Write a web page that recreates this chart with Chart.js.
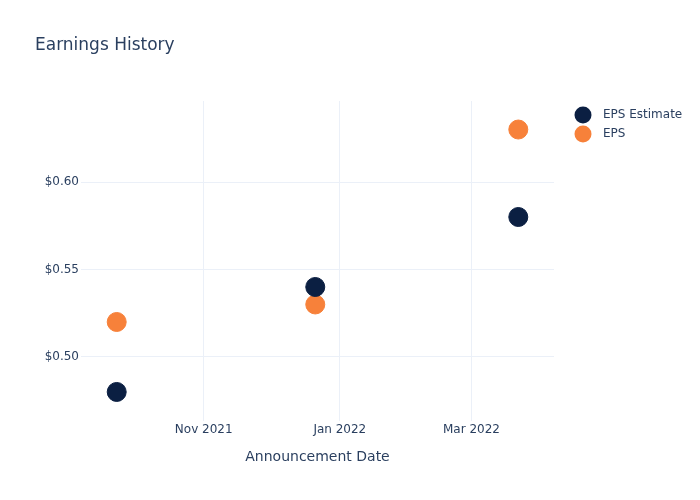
<!DOCTYPE html>
<html>
<head>
<meta charset="utf-8">
<script src="https://cdn.jsdelivr.net/npm/chart.js"></script>
<style>
  body { margin: 0; background: #fff; }
  canvas { display: block; }
</style>
</head>
<body>
<canvas id="eps-chart" width="700" height="500"></canvas>
<script>
// data
const announceDates = ["2021-09-23", "2021-12-21", "2022-03-22"];
const epsEstimate = [0.48, 0.54, 0.58];
const epsActual = [0.52, 0.53, 0.63];
const xTickDates = ["2021-11-01", "2022-01-01", "2022-03-01"];
const xTickLabels = ["Nov 2021", "Jan 2022", "Mar 2022"];

const textColor = "#2a3f5f";
const gridColor = "#ebf0f8";
const fontFamily = "'DejaVu Sans', Verdana, sans-serif";

function toTime(s) {
  const p = s.split("-").map(Number);
  return Date.UTC(p[0], p[1] - 1, p[2]);
}

const xMin = toTime("2021-09-07");
const xMax = toTime("2022-04-07");

// title + legend drawn by hand, plotly style
const decorPlugin = {
  id: "decor",
  afterDraw(chart) {
    const ctx = chart.ctx;
    ctx.save();
    ctx.fillStyle = textColor;
    ctx.textBaseline = "middle";
    ctx.textAlign = "left";
    ctx.font = "17px " + fontFamily;
    ctx.fillText("Earnings History", 35, 46);

    ctx.font = "12px " + fontFamily;
    chart.data.datasets.forEach((ds, i) => {
      const y = 115 + i * 19;
      ctx.beginPath();
      ctx.arc(583, y, 8.5, 0, Math.PI * 2);
      ctx.fillStyle = ds.backgroundColor;
      ctx.fill();
      ctx.fillStyle = textColor;
      ctx.fillText(ds.label, 603, y);
    });
    ctx.restore();
  }
};

new Chart(document.getElementById("eps-chart").getContext("2d"), {
  type: "scatter",
  data: {
    datasets: [
      {
        label: "EPS Estimate",
        data: announceDates.map((d, i) => ({ x: toTime(d), y: epsEstimate[i] })),
        backgroundColor: "#0b1f42",
        borderColor: "#0b1f42",
        pointRadius: 9.5,
        pointHoverRadius: 9.5,
      },
      {
        label: "EPS",
        data: announceDates.map((d, i) => ({ x: toTime(d), y: epsActual[i] })),
        backgroundColor: "#f7813a",
        borderColor: "#f7813a",
        pointRadius: 9.5,
        pointHoverRadius: 9.5,
      },
    ],
  },
  options: {
    responsive: false,
    animation: false,
    layout: { padding: { left: 0, top: 101, right: 146, bottom: 29 } },
    plugins: {
      legend: { display: false },
      title: { display: false },
      tooltip: { enabled: false },
    },
    scales: {
      x: {
        type: "linear",
        min: xMin,
        max: xMax,
        afterBuildTicks(scale) {
          scale.ticks = xTickDates.map(d => ({ value: toTime(d) }));
        },
        afterFit(scale) { scale.height = 50; },
        grid: { color: gridColor, drawTicks: false },
        border: { display: false },
        ticks: {
          color: textColor,
          font: { family: fontFamily, size: 12 },
          padding: 2,
          maxRotation: 0,
          callback(value) {
            const idx = xTickDates.findIndex(d => toTime(d) === value);
            return idx >= 0 ? xTickLabels[idx] : "";
          },
        },
        title: {
          display: true,
          text: "Announcement Date",
          color: textColor,
          font: { family: fontFamily, size: 14 },
          padding: { top: 4, bottom: 5 },
        },
      },
      y: {
        min: 0.4634,
        max: 0.6463,
        afterFit(scale) { scale.width = 81; },
        grid: { color: gridColor, drawTicks: false },
        border: { display: false },
        ticks: {
          stepSize: 0.05,
          includeBounds: false,
          color: textColor,
          font: { family: fontFamily, size: 12 },
          padding: 2,
          callback: v => "$" + v.toFixed(2),
        },
      },
    },
  },
  plugins: [decorPlugin],
});
</script>
</body>
</html>
